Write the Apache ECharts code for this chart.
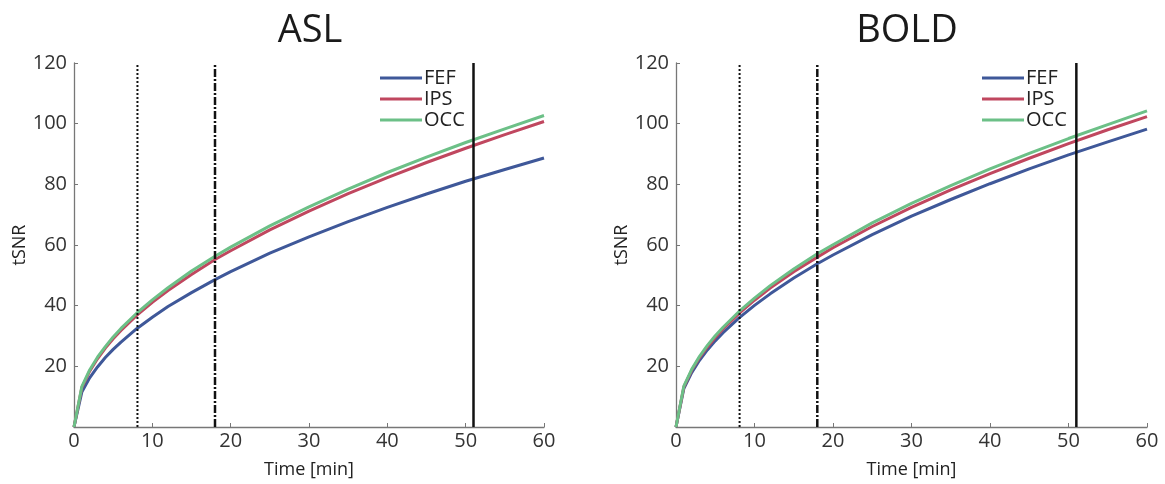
<!DOCTYPE html>
<html>
<head>
<meta charset="utf-8">
<script src="https://cdn.jsdelivr.net/npm/echarts@6/dist/echarts.min.js"></script>
<style>
  html, body { margin: 0; padding: 0; background: #fff; }
  #chart { width: 1165px; height: 484px; }
</style>
</head>
<body>
<div id="chart"></div>
<script>
// time points (min)
var times = [0, 1, 2, 3, 4, 5, 6, 8, 10, 12, 15, 18, 20, 25, 30, 35, 40, 45, 50, 55, 60];

// ASL tSNR
var aslFEF = [0, 11.5, 16.2, 19.8, 22.9, 25.6, 28.0, 32.4, 36.2, 39.7, 44.3, 48.6, 51.2, 57.3, 62.7, 67.7, 72.4, 76.8, 81.0, 84.9, 88.7];
var aslIPS = [0, 13.0, 18.4, 22.5, 26.0, 29.1, 31.8, 36.8, 41.1, 45.0, 50.3, 55.2, 58.1, 65.0, 71.2, 76.9, 82.2, 87.2, 91.9, 96.4, 100.7];
var aslOCC = [0, 13.3, 18.8, 23.0, 26.5, 29.7, 32.5, 37.5, 41.9, 45.9, 51.4, 56.3, 59.3, 66.3, 72.6, 78.4, 83.9, 89.0, 93.8, 98.3, 102.7];

// BOLD tSNR
var boldFEF = [0, 12.7, 17.9, 22.0, 25.4, 28.4, 31.1, 35.9, 40.1, 43.9, 49.1, 53.8, 56.7, 63.4, 69.5, 75.0, 80.2, 85.1, 89.7, 94.0, 98.2];
var boldIPS = [0, 13.2, 18.7, 22.9, 26.4, 29.5, 32.4, 37.4, 41.8, 45.8, 51.2, 56.0, 59.1, 66.1, 72.4, 78.2, 83.5, 88.6, 93.4, 98.0, 102.3];
var boldOCC = [0, 13.5, 19.0, 23.3, 26.9, 30.1, 32.9, 38.0, 42.5, 46.6, 52.1, 57.1, 60.1, 67.3, 73.7, 79.6, 85.1, 90.2, 95.1, 99.7, 104.2];

// vertical marker lines (min)
var markTimes = [8.1, 18, 51];

var regions = ['FEF', 'IPS', 'OCC'];
var colors = ['#3f5899', '#c0475f', '#6cc087'];
var panels = ['ASL', 'BOLD'];

var FONT = 'Open Sans';
var chart = echarts.init(document.getElementById('chart'));

function pairs(ys) {
  return times.map(function (t, i) { return [t, ys[i]]; });
}

var grids = [
  { left: 74, top: 63, width: 470, height: 370 },
  { left: 676, top: 63, width: 471, height: 370 }
];
var titleX = [305, 902];

var xAxes = [], yAxes = [], series = [], titles = [], legends = [];
var panelData = [[aslFEF, aslIPS, aslOCC], [boldFEF, boldIPS, boldOCC]];
var markStyles = [
  { type: [2, 2], width: 2 },
  { type: [8, 2, 2, 2], width: 2.5 },
  { type: 'solid', width: 2.5 }
];

grids.forEach(function (g, gi) {
  xAxes.push({
    type: 'value', gridIndex: gi, min: 0, max: 60, interval: 10,
    name: 'Time [min]', nameLocation: 'middle', nameGap: 34,
    nameTextStyle: { fontFamily: FONT, fontSize: 18, color: '#222' },
    axisLine: { lineStyle: { color: '#777', width: 1.3 } },
    axisTick: { inside: true, length: 4, lineStyle: { color: '#777' } },
    axisLabel: { fontFamily: FONT, fontSize: 20, color: '#333', margin: 4 },
    splitLine: { show: false }
  });
  yAxes.push({
    type: 'value', gridIndex: gi, min: 0, max: 120, interval: 20,
    name: 'tSNR', nameLocation: 'middle', nameGap: 37,
    nameTextStyle: { fontFamily: FONT, fontSize: 18, color: '#222' },
    axisLine: { show: true, lineStyle: { color: '#777', width: 1.3 } },
    axisTick: { show: true, inside: true, length: 4, lineStyle: { color: '#777' } },
    axisLabel: { fontFamily: FONT, fontSize: 20, color: '#333', margin: 7, showMinLabel: false },
    splitLine: { show: false }
  });
  titles.push({
    text: panels[gi], left: titleX[gi], top: 7, textAlign: 'center',
    textStyle: { fontFamily: FONT, fontSize: 38, fontWeight: 'normal', color: '#1a1a1a' }
  });
  legends.push({
    orient: 'vertical', left: g.left + 306, top: 68, padding: 0, itemGap: 1,
    icon: 'rect', itemWidth: 42, itemHeight: 3,
    data: regions,
    selectedMode: false,
    textStyle: { fontFamily: FONT, fontSize: 20, color: '#222', lineHeight: 20, padding: [0, 0, 0, -3] }
  });
  regions.forEach(function (r, ri) {
    series.push({
      name: r, type: 'line', xAxisIndex: gi, yAxisIndex: gi,
      data: pairs(panelData[gi][ri]),
      showSymbol: false, smooth: false,
      lineStyle: { color: colors[ri], width: 3 },
      itemStyle: { color: colors[ri] },
      z: 2
    });
  });
  markTimes.forEach(function (t, mi) {
    series.push({
      name: 'mark' + mi, type: 'line', xAxisIndex: gi, yAxisIndex: gi,
      data: [[t, 0], [t, 120]],
      showSymbol: false, silent: true,
      lineStyle: { color: '#111', width: markStyles[mi].width, type: markStyles[mi].type },
      z: 3
    });
  });
});

chart.setOption({
  animation: false,
  backgroundColor: '#fff',
  title: titles,
  legend: legends,
  grid: grids,
  xAxis: xAxes,
  yAxis: yAxes,
  series: series
});
</script>
</body>
</html>
